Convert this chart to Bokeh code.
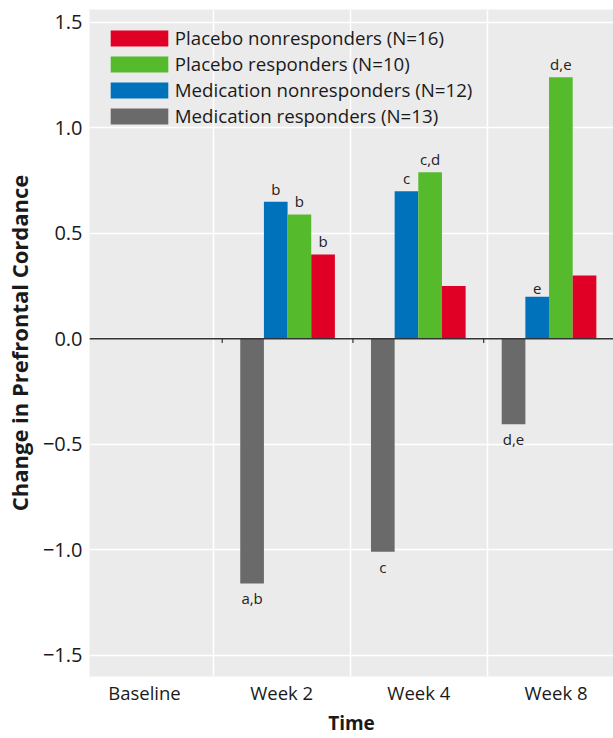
from bokeh.plotting import figure
from bokeh.models import (Range1d, FixedTicker, Span, Legend, LegendItem, ColumnDataSource)
from bokeh.core.properties import value
from bokeh.embed import file_html
from bokeh.resources import INLINE

# ---- data ----
time_points = ["Baseline", "Week 2", "Week 4", "Week 8"]
series_names = ["Medication responders (N=13)", "Medication nonresponders (N=12)",
                "Placebo responders (N=10)", "Placebo nonresponders (N=16)"]
med_resp = [0.0, -1.16, -1.01, -0.405]
med_nonresp = [0.0, 0.65, 0.70, 0.20]
plac_resp = [0.0, 0.59, 0.79, 1.24]
plac_nonresp = [0.0, 0.40, 0.25, 0.30]
med_resp_sig = ["", "a,b", "c", "d,e"]
med_nonresp_sig = ["", "b", "c", "e"]
plac_resp_sig = ["", "b", "c,d", "d,e"]
plac_nonresp_sig = ["", "b", "", ""]
y_ticks = [-1.5, -1.0, -0.5, 0.0, 0.5, 1.0, 1.5]
x_title = "Time"
y_title = "Change in Prefrontal Cordance"

# ---- styles ----
colors = ["#6A6A6A", "#0072BC", "#55BB2D", "#E00025"]
FONT = "Open Sans"
BG = "#EBEBEB"
TXT = "#1A1A1A"

p = figure(width=613, height=738, output_backend="svg", toolbar_location=None,
           x_range=Range1d(-0.401, 3.419), y_range=Range1d(-1.601, 1.5616),
           min_border_left=87, min_border_right=0, min_border_top=9, min_border_bottom=61)
p.background_fill_color = BG
p.border_fill_color = "white"
p.outline_line_color = None

# grid
p.xgrid.ticker = FixedTicker(ticks=[0.5, 1.5, 2.5])
p.ygrid.ticker = FixedTicker(ticks=y_ticks)
p.xgrid.grid_line_color = "white"
p.ygrid.grid_line_color = "white"
p.xgrid.grid_line_width = 1.5
p.ygrid.grid_line_width = 1.5

# bar geometry (group spacing of the bars differs slightly from label spacing)
group_start = 0.09
group_step = 0.953
bar_w = 0.1725
offsets = [-1.5, -0.5, 0.5, 1.5]
all_vals = [med_resp, med_nonresp, plac_resp, plac_nonresp]
all_sig = [med_resp_sig, med_nonresp_sig, plac_resp_sig, plac_nonresp_sig]

renderers = []
for k, (vals, sig) in enumerate(zip(all_vals, all_sig)):
    xs = [group_start + group_step * i + offsets[k] * bar_w for i in range(len(time_points))]
    src = ColumnDataSource(dict(x=xs, top=vals, sig=sig,
                                y_up=[v if v >= 0 else 0 for v in vals],
                                y_dn=[v if v < 0 else 0 for v in vals]))
    r = p.vbar(x="x", top="top", bottom=0, width=bar_w, source=src,
               fill_color=colors[k], line_color=None)
    renderers.append(r)
    if any(v < 0 for v in vals):
        p.text(x="x", y="y_dn", text="sig", source=src, text_align="center",
               text_baseline="top", y_offset=5, text_font=value(FONT),
               text_font_size="15px", text_color="#222222")
    else:
        p.text(x="x", y="y_up", text="sig", source=src, text_align="center",
               text_baseline="bottom", y_offset=-3, text_font=value(FONT),
               text_font_size="15px", text_color="#222222")

# zero line with tick marks at group boundaries
p.add_layout(Span(location=0, dimension="width", line_color="#333333", line_width=1.5))
bx = [group_start + group_step * (i - 0.5) for i in range(1, len(time_points))]
p.segment(x0=bx, x1=bx, y0=[0] * len(bx), y1=[-0.02] * len(bx), line_color="#333333", line_width=1.2)

# axes
p.xaxis.ticker = FixedTicker(ticks=list(range(len(time_points))))
p.xaxis.major_label_overrides = {i: t for i, t in enumerate(time_points)}
p.yaxis.ticker = FixedTicker(ticks=y_ticks)
p.yaxis.major_label_overrides = {t: (f"{t:.1f}".replace("-", "\u2212")) for t in y_ticks}
for ax in (p.xaxis, p.yaxis):
    ax.axis_line_color = None
    ax.major_tick_line_color = None
    ax.minor_tick_line_color = None
    ax.major_tick_out = 0
    ax.major_tick_in = 0
    ax.major_label_text_font = FONT
    ax.major_label_text_color = TXT
    ax.axis_label_text_font = FONT
    ax.axis_label_text_font_style = "bold"
    ax.axis_label_text_color = TXT
p.xaxis.major_label_text_font_size = "18.5px"
p.yaxis.major_label_text_font_size = "20px"
p.xaxis.axis_label = x_title
p.yaxis.axis_label = y_title
p.xaxis.axis_label_text_font_size = "19px"
p.yaxis.axis_label_text_font_size = "22px"
p.xaxis.major_label_standoff = 3
p.yaxis.major_label_standoff = 7
p.xaxis.axis_label_standoff = 2
p.yaxis.axis_label_standoff = 6

# legend (order as in the original)
order = [3, 2, 1, 0]
legend = Legend(items=[LegendItem(label=series_names[k], renderers=[renderers[k]]) for k in order],
                location=(13.8, 548), margin=0, padding=0, spacing=1,
                glyph_width=72, glyph_height=20, label_height=20, label_standoff=0,
                label_text_font=FONT, label_text_font_size="18.7px", label_text_color=TXT,
                background_fill_alpha=0, border_line_color=None)
p.add_layout(legend)

open("out.html", "w").write(file_html(p, INLINE))
